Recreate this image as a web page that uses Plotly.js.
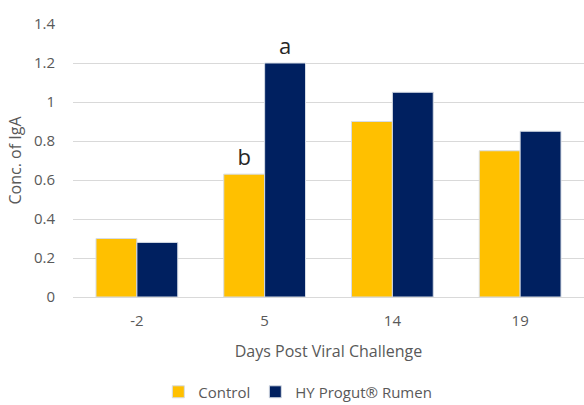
<!DOCTYPE html>
<html><head><meta charset="utf-8">
<script src="https://cdn.plot.ly/plotly-3.0.1.min.js"></script>
<style>html,body{margin:0;padding:0;background:#fff}#chart{width:584px;height:405px}</style>
</head><body><div id="chart"></div>
<script>
var days = ['-2', '5', '14', '19'];
var controlValues = [0.30, 0.63, 0.90, 0.75];
var progutValues = [0.28, 1.20, 1.05, 0.85];
var controlLabels = ['', 'b', '', ''];
var progutLabels = ['', 'a', '', ''];
var seriesNames = ['Control', 'HY Progut® Rumen'];

var font = 'Open Sans, Noto Sans, sans-serif';
var traces = [
  {type:'bar', x:days, y:controlValues, name:seriesNames[0], text:controlLabels, textposition:'outside',
   textfont:{size:22, color:'#262626', family:font}, cliponaxis:false,
   marker:{color:'#FFC000', line:{color:'#D6DCE5', width:1}}},
  {type:'bar', x:days, y:progutValues, name:seriesNames[1], text:progutLabels, textposition:'outside',
   textfont:{size:22, color:'#262626', family:font}, cliponaxis:false,
   marker:{color:'#002060', line:{color:'#D6DCE5', width:1}}}
];
var layout = {
  width:584, height:405,
  margin:{l:73, r:0, t:24, b:108},
  paper_bgcolor:'#fff', plot_bgcolor:'#fff',
  font:{family:font, color:'#595959', size:14},
  barmode:'group', bargap:0.36, bargroupgap:0,
  showlegend:true,
  legend:{orientation:'h', x:0.51, xref:'container', xanchor:'center', y:0.032, yref:'container', yanchor:'middle',
    font:{size:15, color:'#595959'}, itemwidth:30, traceorder:'normal'},
  xaxis:{type:'category', tickfont:{size:15, color:'#595959'}, showline:true, linecolor:'#d9d9d9',
    ticks:'outside', ticklen:10, tickcolor:'rgba(0,0,0,0)',
    title:{text:'Days Post Viral Challenge', font:{size:16, color:'#595959'}, standoff:16}},
  yaxis:{range:[0,1.4], dtick:0.2, tickfont:{size:15, color:'#595959'}, gridcolor:'#d9d9d9', zeroline:false,
    ticks:'outside', ticklen:14, tickcolor:'rgba(0,0,0,0)',
    title:{text:'Conc. of IgA', font:{size:16, color:'#595959'}, standoff:8}}
};
Plotly.newPlot('chart', traces, layout, {displayModeBar:false, staticPlot:true});
</script></body></html>
